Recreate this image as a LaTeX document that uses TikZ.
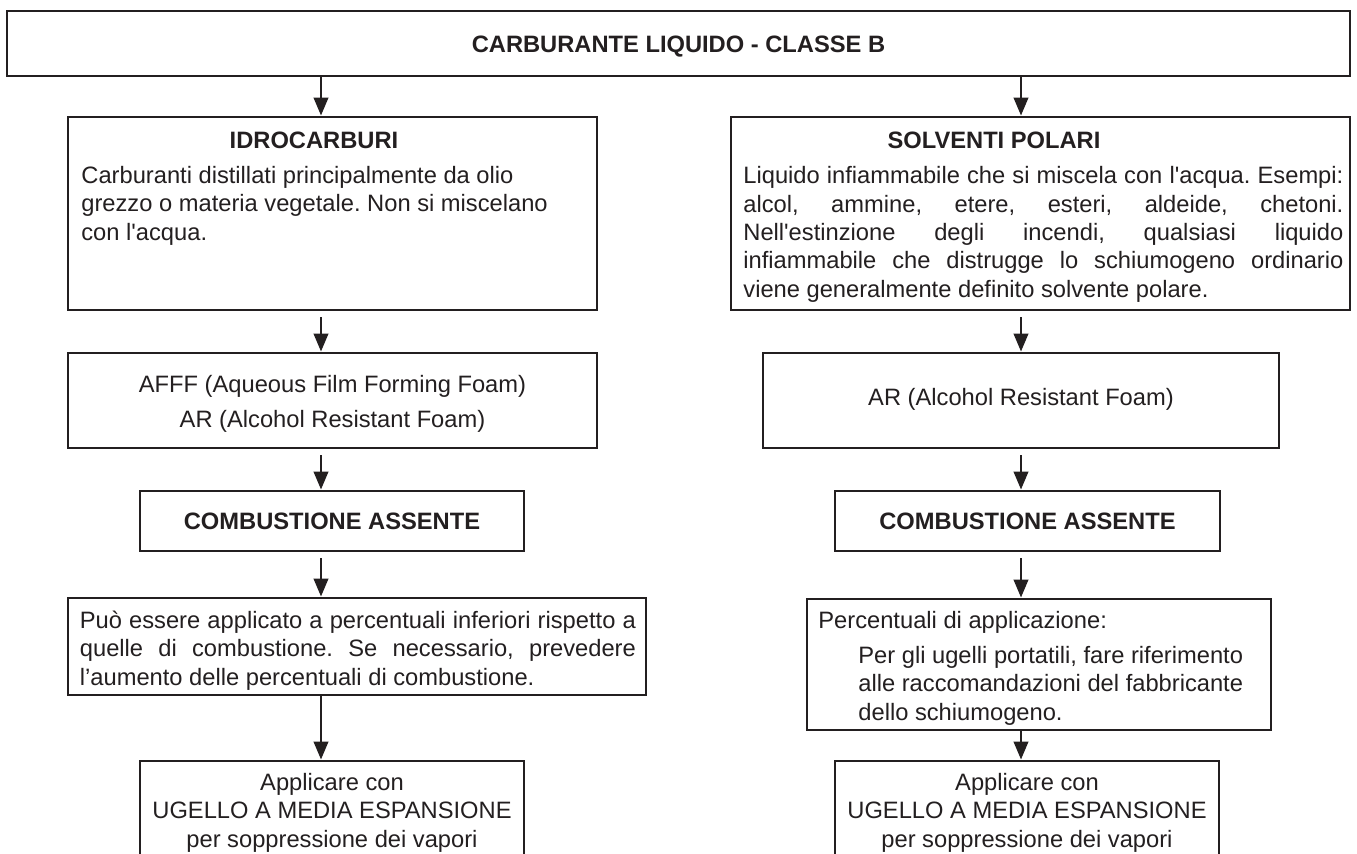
\documentclass[tikz,border=0pt]{standalone}
\usepackage{fontspec}
\setmainfont{Liberation Sans}[Ligatures=TeXOff]
\usetikzlibrary{arrows.meta,fit}
\definecolor{ink}{RGB}{35,31,32}
\hyphenpenalty=10000
\exhyphenpenalty=10000
\frenchspacing
\begin{document}
\begin{tikzpicture}[x=0.5pt,y=-0.5pt,
  box/.style={draw=ink, line width=1.4pt, inner sep=0pt},
  txt/.style={inner sep=0pt, text=ink, font=\fontsize{11.85pt}{14.2pt}\selectfont},
  bold/.style={inner sep=0pt, text=ink, font=\fontsize{11.85pt}{14.2pt}\selectfont\bfseries},
  arr/.style={draw=ink, line width=1.3pt, -{Triangle[width=7.2pt,length=9pt]}},
  gap/.style={shorten <=3pt}
]
\useasboundingbox (0,0) rectangle (1357,854);
\clip (0,0) rectangle (1357,854);
\fill[white] (0,0) rectangle (1357,854);

\coordinate (L) at (321,0);
\coordinate (R) at (1021,0);

% top
\node[box, fit={(7,11) (1350,76)}] (top) {};
\node[bold, anchor=base] (toptxt) at (678.5,52.5) {CARBURANTE LIQUIDO - CLASSE B};

% left column
\node[box, fit={(68,117) (597,310)}] (idro) {};
\node[bold, anchor=base] (idrot) at (314,148.5) {IDROCARBURI};
\node[txt, anchor=north west, align=left] (idrob) at (81,165.7)
  {Carburanti distillati principalmente da olio\\grezzo o materia vegetale. Non si miscelano\\con l'acqua.};

\node[box, fit={(68,353) (597,448)}] (afff) {};
\node[txt, anchor=north, align=center, font=\fontsize{11.85pt}{17.5pt}\selectfont] (affft) at (332.5,374.6)
  {AFFF (Aqueous Film Forming Foam)\\AR (Alcohol Resistant Foam)};

\node[box, fit={(140,491) (524,551)}] (combl) {};
\node[bold, anchor=base] (comblt) at (332,530) {COMBUSTIONE ASSENTE};

\node[box, fit={(68,598) (646,695)}] (puo) {};
\node[txt, anchor=north west, text width=278pt, align=justify] (puot) at (79.5,610.7)
  {Può essere applicato a percentuali inferiori rispetto a\linebreak quelle di combustione. Se necessario, prevedere\linebreak l’aumento delle percentuali di combustione.};

\node[box, fit={(140,761) (524,900)}] (ugl) {};
\node[txt, anchor=north, align=center, font=\fontsize{11.85pt}{14.25pt}\selectfont] (uglt) at (332,772.7)
  {Applicare con\\UGELLO A MEDIA ESPANSIONE\\per soppressione dei vapori};

% right column
\node[box, fit={(731,117) (1350,310)}] (solv) {};
\node[bold, anchor=base] (solvt) at (994,148.5) {SOLVENTI POLARI};
\node[txt, anchor=north west, text width=300pt, align=justify] (solvb) at (743,166.2)
  {Liquido infiammabile che si miscela con l'acqua. Esempi:\linebreak alcol, ammine, etere, esteri, aldeide, chetoni.\linebreak Nell'estinzione degli incendi, qualsiasi liquido\linebreak infiammabile che distrugge lo schiumogeno ordinario\linebreak viene generalmente definito solvente polare.};

\node[box, fit={(763,353) (1279,448)}] (ar) {};
\node[txt, anchor=base] (art) at (1021,406) {AR (Alcohol Resistant Foam)};

\node[box, fit={(835,491) (1220,551)}] (combr) {};
\node[bold, anchor=base] (combrt) at (1027.5,530) {COMBUSTIONE ASSENTE};

\node[box, fit={(807,599) (1271,730)}] (perc) {};
\node[txt, anchor=north west, align=left] (perct) at (818,610.7)
  {Percentuali di applicazione:\\[3.3pt]\hspace*{20pt}Per gli ugelli portatili, fare riferimento\\\hspace*{20pt}alle raccomandazioni del fabbricante\\\hspace*{20pt}dello schiumogeno.};

\node[box, fit={(835,761) (1219,900)}] (ugr) {};
\node[txt, anchor=north, align=center, font=\fontsize{11.85pt}{14.25pt}\selectfont] (ugrt) at (1027,772.7)
  {Applicare con\\UGELLO A MEDIA ESPANSIONE\\per soppressione dei vapori};

% connectors
\draw[arr] (top.south -| L) -- (idro.north -| L);
\draw[arr] (top.south -| R) -- (solv.north -| R);
\draw[arr, gap] (idro.south -| L) -- (afff.north -| L);
\draw[arr, gap] (solv.south -| R) -- (ar.north -| R);
\draw[arr, gap] (afff.south -| L) -- (combl.north -| L);
\draw[arr, gap] (ar.south -| R) -- (combr.north -| R);
\draw[arr, gap] (combl.south -| L) -- (puo.north -| L);
\draw[arr, gap] (combr.south -| R) -- (perc.north -| R);
\draw[arr] (puo.south -| L) -- (ugl.north -| L);
\draw[arr] (perc.south -| R) -- (ugr.north -| R);
\end{tikzpicture}
\end{document}
